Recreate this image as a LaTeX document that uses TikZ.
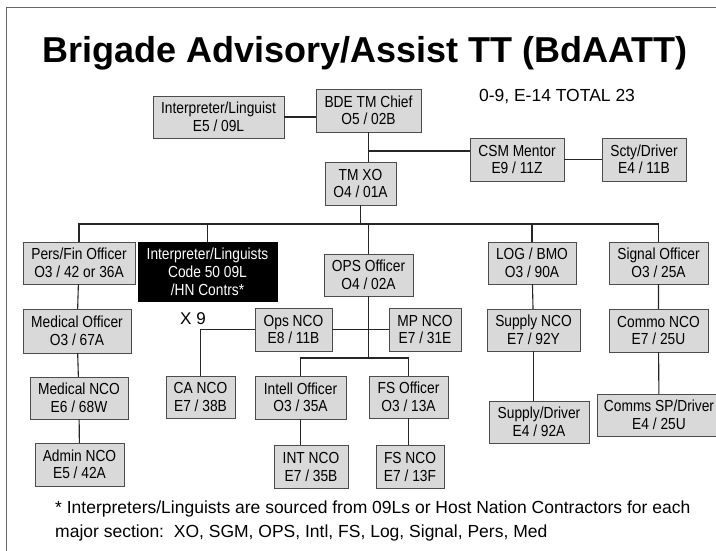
\documentclass[tikz,border=0pt]{standalone}
\usepackage{fontspec}
\setmainfont{Liberation Sans}
\newfontfamily\boxfont[FakeStretch=0.86]{Liberation Sans}
\tikzset{
  post/.style={draw=black!70, fill=black!15, align=center, inner sep=1pt,
    font=\boxfont\fontsize{16}{17.5}\selectfont},
  darkpost/.style={post, draw=black, fill=black, text=white},
  link/.style={draw=black!85, line width=1.1pt},
}
\begin{document}
\begin{tikzpicture}[x=1pt,y=-1pt]
\useasboundingbox (0,0) rectangle (716,551);
\draw[black!60] (6,551)--(6,7)--(716,7);
\node[anchor=base, font=\fontsize{36}{40}\bfseries] (title) at (365,63) {Brigade Advisory/Assist TT (BdAATT)};
\node[font=\fontsize{17.5}{20}\selectfont] (total) at (557,97) {0-9, E-14 TOTAL 23};
% top of the team
\node[post, minimum width=131pt, minimum height=42pt] (interp) at (218.5,117) {Interpreter/Linguist\\E5 / 09L};
\node[post, minimum width=105pt, minimum height=43pt] (chief) at (368.5,110.5) {BDE TM Chief\\O5 / 02B};
\node[post, minimum width=71pt, minimum height=43pt] (xo) at (360.5,183.5) {TM XO\\O4 / 01A};
\node[post, minimum width=94pt, minimum height=43pt] (csm) at (517,159.5) {CSM Mentor\\E9 / 11Z};
\node[post, minimum width=84pt, minimum height=43pt] (scty) at (644,159.5) {Scty/Driver\\E4 / 11B};
% sections
\node[post, minimum width=112pt, minimum height=42pt] (persfin) at (79,263) {Pers/Fin Officer\\O3 / 42 or 36A};
\node[darkpost, minimum width=139pt, minimum height=59pt, font=\boxfont\fontsize{16}{18}\selectfont] (interps) at (207.5,271.5) {Interpreter/Linguists\\Code 50 09L\\/HN Contrs*};
\node[font=\fontsize{17}{20}\selectfont] (xnine) at (193,319) {X 9};
\node[post, minimum width=89pt, minimum height=42pt] (ops) at (368.5,275) {OPS Officer\\O4 / 02A};
\node[post, minimum width=88pt, minimum height=42pt] (log) at (532,263) {LOG / BMO\\O3 / 90A};
\node[post, minimum width=99pt, minimum height=42pt] (signal) at (658.5,263) {Signal Officer\\O3 / 25A};
% third row
\node[post, minimum width=108pt, minimum height=44pt] (medoff) at (77,331) {Medical Officer\\O3 / 67A};
\node[post, minimum width=77pt, minimum height=43pt] (opsnco) at (293.5,329.5) {Ops NCO\\E8 / 11B};
\node[post, minimum width=72pt, minimum height=43pt] (mpnco) at (425,329.5) {MP NCO\\E7 / 31E};
\node[post, minimum width=93pt, minimum height=42pt] (supnco) at (533.5,330) {Supply NCO\\E7 / 92Y};
\node[post, minimum width=99pt, minimum height=43pt] (commo) at (658.5,330.5) {Commo NCO\\E7 / 25U};
% fourth row
\node[post, minimum width=98pt, minimum height=42pt] (mednco) at (79,398) {Medical NCO\\E6 / 68W};
\node[post, minimum width=69pt, minimum height=42pt] (canco) at (200.5,397) {CA NCO\\E7 / 38B};
\node[post, minimum width=91pt, minimum height=43pt] (intell) at (300.5,397.5) {Intell Officer\\O3 / 35A};
\node[post, minimum width=79pt, minimum height=42pt] (fsoff) at (408.5,397) {FS Officer\\O3 / 13A};
\node[post, minimum width=100pt, minimum height=42pt] (supdrv) at (539,422) {Supply/Driver\\E4 / 92A};
\node[post, minimum width=124pt, minimum height=42pt] (comms) at (659,415) {Comms SP/Driver\\E4 / 25U};
% bottom row
\node[post, minimum width=89pt, minimum height=43pt] (admin) at (79.5,464.5) {Admin NCO\\E5 / 42A};
\node[post, minimum width=74pt, minimum height=43pt] (intnco) at (311,467) {INT NCO\\E7 / 35B};
\node[post, minimum width=68pt, minimum height=43pt] (fsnco) at (410,467) {FS NCO\\E7 / 13F};
% footnote
\node[anchor=base west, font=\fontsize{17.5}{20}\selectfont, inner sep=0pt] (note) at (55,513) {* Interpreters/Linguists are sourced from 09Ls or Host Nation Contractors for each};
\node[anchor=base west, font=\fontsize{17.5}{20}\selectfont, inner sep=0pt] (notetwo) at (55,537) {major section:\ \ XO, SGM, OPS, Intl, FS, Log, Signal, Pers, Med};
% connectors
\coordinate (csmjoin) at (369,151);
\coordinate (bus) at (0,224);
\coordinate (opsbus) at (0,358);
\draw[link] (interp.east) -- (interp.east -| chief.west);
\draw[link] (chief.south) -- (chief.south |- xo.north);
\draw[link] (csmjoin) -- (csmjoin -| csm.west);
\draw[link] (csm.east) -- (csm.east -| scty.west);
\draw[link] (xo.south) -- (xo.south |- bus);
\draw[link] (persfin.north) -- (persfin.north |- bus) -| (signal.north);
\foreach \n in {interps,ops,log}
  \draw[link] (\n.north) -- (\n.north |- bus);
\draw[link] (persfin) -- (medoff) -- (mednco) -- (admin);
\draw[link] (ops.south) -- (ops.south |- opsbus);
\draw[link] (intell.north) |- (ops.south |- opsbus) -| (fsoff.north);
\draw[link] (canco.north) |- (opsnco.west);
\draw[link] (opsnco.east) -- (opsnco.east -| mpnco.west);
\draw[link] (intell.south) -- (intell.south |- intnco.north);
\draw[link] (fsoff.south) -- (fsoff.south |- fsnco.north);
\draw[link] (log) -- (supnco);
\draw[link] (supnco.south) -- (supnco.south |- supdrv.north);
\draw[link] (signal) -- (commo) -- (comms);
\end{tikzpicture}
\end{document}
